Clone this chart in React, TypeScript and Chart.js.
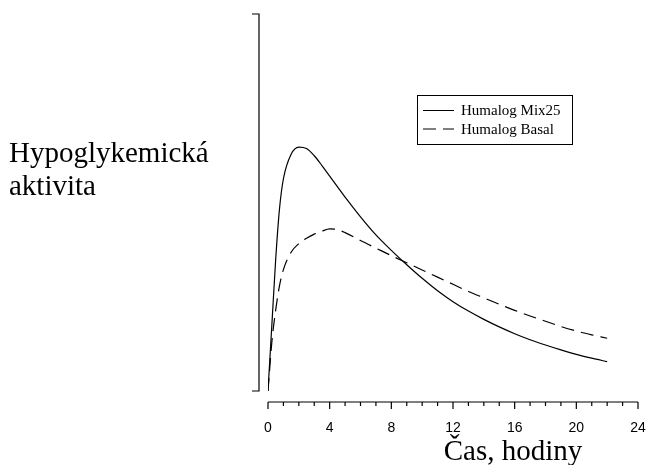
import { useEffect, useRef } from 'react';
import { Chart, registerables } from 'chart.js';

Chart.register(...registerables);

// hodiny po aplikaci
const hours = [0, 0.25, 0.5, 0.75, 1, 1.5, 2, 2.5, 3, 3.5, 4, 4.5, 5, 6, 7, 8, 9, 10, 11, 12, 13, 14, 15, 16, 17, 18, 19, 20, 21, 22];
// hypoglykemicka aktivita (relativni jednotky, 0-100)
const mix25 = [0, 17.5, 35, 48.5, 56.3, 62.8, 64.7, 64.3, 62.4, 59.8, 57.0, 54.2, 51.4, 46.2, 41.4, 37.3, 33.5, 29.9, 26.6, 23.7, 21.2, 19.0, 17.0, 15.2, 13.6, 12.2, 10.9, 9.7, 8.7, 7.8];
const basal = [0, 13, 21.5, 28, 32.2, 36.8, 39.1, 40.5, 41.6, 42.4, 43.0, 42.8, 42.0, 39.9, 37.9, 35.9, 34.0, 32.1, 30.2, 28.3, 26.4, 24.7, 23.0, 21.4, 19.9, 18.5, 17.1, 15.9, 14.9, 14.0];
const xTicks = [0, 4, 8, 12, 16, 20, 24];
const seriesLabels = ['Humalog Mix25', 'Humalog Basal'];
const xTitle = 'Čas, hodiny';
const yTitle = ['Hypoglykemická', 'aktivita'];

const serif = '"Liberation Serif", "Times New Roman", serif';
const sans = '"Liberation Sans", Arial, sans-serif';

// osy odsazene od grafu, legenda v ramecku
const axesPlugin = {
  id: 'detachedAxes',
  afterDraw(chart: any) {
    const { ctx, scales } = chart;
    const x = scales.x;
    const y = scales.y;
    ctx.save();
    ctx.strokeStyle = '#000';
    ctx.fillStyle = '#000';
    ctx.lineWidth = 1.2;

    // osa Y
    const yx = x.getPixelForValue(0) - 9;
    const yTop = y.getPixelForValue(y.max);
    const yBot = y.getPixelForValue(y.min);
    ctx.beginPath();
    ctx.moveTo(yx - 7, yTop);
    ctx.lineTo(yx, yTop);
    ctx.lineTo(yx, yBot);
    ctx.lineTo(yx - 7, yBot);
    ctx.stroke();

    // osa X
    const xy = yBot + 11;
    ctx.beginPath();
    ctx.moveTo(x.getPixelForValue(0), xy);
    ctx.lineTo(x.getPixelForValue(24), xy);
    for (let h = 0; h <= 24; h++) {
      const px = x.getPixelForValue(h);
      ctx.moveTo(px, xy);
      ctx.lineTo(px, xy + (h % 4 === 0 ? 7 : 4));
    }
    ctx.stroke();

    ctx.font = `14px ${sans}`;
    ctx.textAlign = 'center';
    ctx.textBaseline = 'middle';
    xTicks.forEach((t) => ctx.fillText(String(t), x.getPixelForValue(t), xy + 26));

    ctx.font = `29px ${serif}`;
    ctx.textBaseline = 'alphabetic';
    ctx.fillText(xTitle, 513, 460);
    ctx.textAlign = 'left';
    ctx.fillText(yTitle[0], 9, 162);
    ctx.fillText(yTitle[1], 9, 195);

    // legenda
    ctx.lineWidth = 1;
    ctx.strokeRect(417.5, 95.5, 155, 49);
    ctx.font = `15px ${serif}`;
    chart.data.datasets.forEach((ds: any, i: number) => {
      const ly = 110.5 + i * 18.5;
      ctx.setLineDash(ds.borderDash || []);
      ctx.beginPath();
      ctx.moveTo(423, ly);
      ctx.lineTo(454, ly);
      ctx.stroke();
      ctx.setLineDash([]);
      ctx.textBaseline = 'middle';
      ctx.fillText(ds.label, 461, ly + 1);
    });
    ctx.restore();
  },
};

export default function App() {
  const canvasRef = useRef<HTMLCanvasElement>(null);

  useEffect(() => {
    if (!canvasRef.current) return;
    const chart = new Chart(canvasRef.current, {
      type: 'line',
      data: {
        datasets: [
          {
            label: seriesLabels[0],
            data: hours.map((h, i) => ({ x: h, y: mix25[i] })),
            borderColor: '#000',
            borderWidth: 1.2,
            pointRadius: 0,
            cubicInterpolationMode: 'monotone',
          },
          {
            label: seriesLabels[1],
            data: hours.map((h, i) => ({ x: h, y: basal[i] })),
            borderColor: '#000',
            borderWidth: 1.2,
            borderDash: [13, 7],
            pointRadius: 0,
            cubicInterpolationMode: 'monotone',
          },
        ],
      },
      options: {
        responsive: true,
        maintainAspectRatio: false,
        animation: false,
        layout: { padding: { left: 268, right: 10, top: 14, bottom: 74 } },
        plugins: { legend: { display: false }, tooltip: { enabled: false } },
        scales: {
          x: { type: 'linear', min: 0, max: 24, display: false },
          y: { min: 0, max: 100, display: false },
        },
      },
      plugins: [axesPlugin],
    });
    return () => chart.destroy();
  }, []);

  return (
    <div style={{ position: 'absolute', left: 0, top: 0, width: 648, height: 465, background: '#fff' }}>
      <canvas ref={canvasRef} />
    </div>
  );
}
